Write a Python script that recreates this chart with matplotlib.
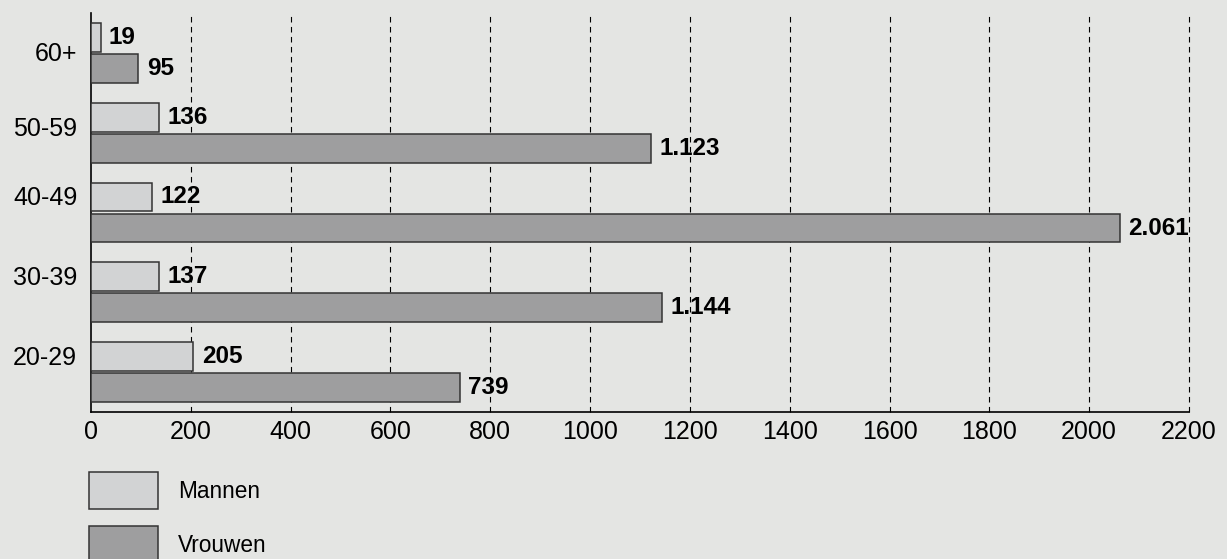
import matplotlib.pyplot as plt
from matplotlib.patches import Rectangle

plt.rcParams['font.family'] = ['Liberation Sans', 'DejaVu Sans']

age_groups = ["20-29", "30-39", "40-49", "50-59", "60+"]
mannen = [205, 137, 122, 136, 19]
vrouwen = [739, 1144, 2061, 1123, 95]
x_ticks = [0, 200, 400, 600, 800, 1000, 1200, 1400, 1600, 1800, 2000, 2200]

bg = "#e4e5e3"
col_m = "#d2d3d4"
col_v = "#9e9e9f"
edge = "#333333"


def nl(v):
    return f"{v:,}".replace(",", ".")


fig = plt.figure(figsize=(12.27, 5.59), dpi=100, facecolor=bg)
ax = fig.add_axes([0.0742, 0.263, 0.8948, 0.7137], facecolor=bg)

pos = list(range(len(age_groups)))
h = 0.36
off = 0.195
bars_m = ax.barh([p + off for p in pos], mannen, height=h, color=col_m,
                 edgecolor=edge, linewidth=1.1, zorder=3)
bars_v = ax.barh([p - off for p in pos], vrouwen, height=h, color=col_v,
                 edgecolor=edge, linewidth=1.1, zorder=3)

for bars, vals in ((bars_m, mannen), (bars_v, vrouwen)):
    for b, v in zip(bars, vals):
        ax.annotate(nl(v), (b.get_width(), b.get_y() + b.get_height() / 2),
                    xytext=(6, 0), textcoords="offset points",
                    ha="left", va="center", fontsize=17.5, fontweight="bold",
                    zorder=4)

ax.set_xlim(0, 2200)
ax.set_ylim(-0.5, 4.5)
ax.set_xticks(x_ticks)
ax.set_xticklabels([str(t) for t in x_ticks], fontsize=18)
ax.tick_params(axis="x", length=0, pad=6)

# category labels sit a bit above the pair centre (except 60+)
shift = [0.21, 0.21, 0.21, 0.08, 0.02]
ax.set_yticks([p + s for p, s in zip(pos, shift)])
ax.set_yticklabels(age_groups, fontsize=18)
ax.tick_params(axis="y", length=0, pad=10)

for t in x_ticks[1:]:
    ax.axvline(t, color="black", linestyle=(0, (5, 4)), linewidth=0.8,
               zorder=1, clip_on=False)

for s in ("top", "right"):
    ax.spines[s].set_visible(False)
for s in ("left", "bottom"):
    ax.spines[s].set_color("black")
    ax.spines[s].set_linewidth(1.2)

# legend drawn by hand at the bottom left
for i, (lab, c) in enumerate((("Mannen", col_m), ("Vrouwen", col_v))):
    y0 = 559 - 509 - i * 54
    fig.add_artist(Rectangle((89 / 1227, y0 / 559), 69 / 1227, 37 / 559,
                             transform=fig.transFigure, facecolor=c,
                             edgecolor=edge, linewidth=1.1))
    fig.text(178 / 1227, (y0 + 18) / 559, lab, fontsize=16.3, va="center")

fig.savefig("out.png", dpi=100, facecolor=bg)
